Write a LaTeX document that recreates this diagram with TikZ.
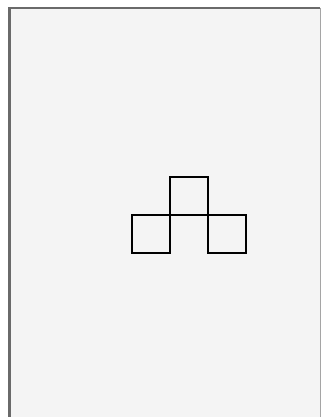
\documentclass[tikz,border=0pt]{standalone}
\usepackage{tikz}
\usetikzlibrary{positioning}

\definecolor{panelbg}{HTML}{F4F4F4}
\definecolor{frameline}{HTML}{6A6A6A}

\begin{document}
\begin{tikzpicture}[
x=1pt,
y=-1pt,
node distance=0pt,
cell/.style={
draw,
line width=1.5pt,
inner sep=0pt,
outer sep=0pt,
minimum size=38pt
},
frame/.style={
frameline,
line width=2.5pt
}
]

\useasboundingbox (0,0) rectangle (321,417);


% Panel

\fill[white] (0,0) rectangle (321,417);
\fill[panelbg] (9,8) rectangle (320,417);

\draw[frame] (9.5,417) -- (9.5,8) -- (320,8);
\draw[frame, line width=1pt, frameline!60] (320.5,8) -- (320.5,417);


% Cells

\node (topcell) [cell] at (189,196) {};

\node (leftcell) [cell, below left=0pt and 0pt of topcell.south west]
{};

\node (rightcell) [cell, below right=0pt and 0pt of topcell.south east]
{};


\end{tikzpicture}
\end{document}
